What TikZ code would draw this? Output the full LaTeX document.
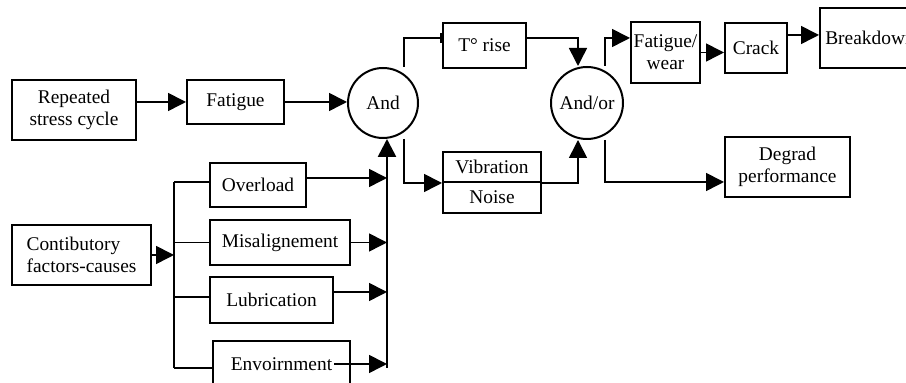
\documentclass[tikz,border=0pt]{standalone}
\usepackage{fontspec}
\setmainfont{Liberation Serif}
\usetikzlibrary{arrows.meta}

\begin{document}
\begin{tikzpicture}[x=0.5pt, y=-0.5pt,
    font=\fontsize{9.7}{11}\selectfont,
    blk/.style={draw, line width=1pt, align=center, inner sep=1pt},
    gate/.style={draw, circle, line width=1pt, inner sep=0pt, minimum size=35pt},
    wire/.style={line width=0.8pt},
    arr/.style={wire, -{Triangle[length=9pt,width=9pt]}}]
  \clip (0,0) rectangle (906,383);

  % upper chain
  \node[blk, minimum width=62pt, minimum height=30pt] (rep) at (74,110) {Repeated\\stress cycle};
  \node[blk, minimum width=48.5pt, minimum height=22pt] (fat) at (235.5,102) {Fatigue};
  \node[gate] (and) at (383,103) {And};
  \node[blk, minimum width=41.5pt, minimum height=22.5pt] (trise) at (484.5,45.5) {T° rise};
  \node[blk, minimum width=49pt, minimum height=15pt] (vib) at (492,167) {Vibration};
  \node[blk, minimum width=49pt, minimum height=15.5pt] (noise) at (492,197.5) {Noise};
  \node[gate, minimum size=36pt] (andor) at (587,103) {And/or};
  \node[blk, minimum width=34.5pt, minimum height=30.5pt, inner sep=0pt] (fw) at (665.5,52.5) {Fatigue/\\wear};
  \node[blk, minimum width=31pt, minimum height=25pt] (crack) at (756,48) {Crack};
  \node[blk, minimum width=50pt, minimum height=30pt] (brk) at (870,38) {Breakdown};
  \node[blk, minimum width=62.5pt, minimum height=30pt] (deg) at (787.5,167) {Degrad\\performance};

  % contributory causes
  \node[blk, minimum width=69.5pt, minimum height=30pt, align=left] (cont) at (81.5,255) {Contibutory\\factors-causes};
  \node[blk, minimum width=48pt, minimum height=22pt] (over) at (258,185) {Overload};
  \node[blk, minimum width=70pt, minimum height=22.5pt] (mis) at (280,242.5) {Misalignement};
  \node[blk, minimum width=61.5pt, minimum height=23pt] (lub) at (271.5,300) {Lubrication};
  \node[blk, minimum width=68.5pt, minimum height=23pt] (env) at (281.5,364) {Envoirnment};

  \coordinate (lbtop) at (174,182);
  \coordinate (lbbot) at (174,368);
  \coordinate (rbbot) at (387,368);

  % connectors
  \draw[arr] (rep.east |- fat.west) -- (fat.west);
  \draw[arr] (fat.east) -- (fat.east -| and.west);
  \draw[wire, -{Bar[width=5pt]}] ([xshift=10.5pt]and.north) |- ([yshift=3.75pt]trise.west);
  \draw[arr] ([yshift=3.75pt]trise.east) -| ([xshift=-4.5pt]andor.north);
  \draw[arr] ([xshift=10.5pt]and.south) |- (vib.south west);
  \draw[arr] (vib.south east) -| ([xshift=-4.5pt]andor.south);
  \draw[arr] ([xshift=9pt]andor.north) |- ([yshift=7.25pt]fw.west);
  \draw[arr] (fw.east) -- (fw.east -| crack.west);
  \draw[arr] ([yshift=6.5pt]crack.east) -- ([yshift=6.5pt]crack.east -| brk.west);
  \draw[arr] ([xshift=9pt]andor.south) |- ([yshift=-7.5pt]deg.west);

  \draw[arr] (cont.east) -- (cont.east -| lbtop);
  \draw[wire] (lbtop) -- (lbbot);
  \draw[wire] (lbtop) -- (lbtop -| over.west);
  \draw[wire] (mis.west -| lbtop) -- (mis.west);
  \draw[wire] ([yshift=1.5pt]lub.west -| lbtop) -- ([yshift=1.5pt]lub.west);
  \draw[wire] (lbbot) -- (lbbot -| env.west);

  \draw[arr] ([yshift=3.5pt]over.east) -- ([yshift=3.5pt]over.east -| rbbot);
  \draw[arr] (mis.east) -- (mis.east -| rbbot);
  \draw[arr] ([yshift=4pt]lub.east) -- ([yshift=4pt]lub.east -| rbbot);
  \draw[arr] ([xshift=-8.5pt]env.east) -- (env.east -| rbbot);
  \draw[line width=1.3pt, -{Triangle[length=9pt,width=9pt]}] (rbbot) -- (rbbot |- and.south);
\end{tikzpicture}
\end{document}
